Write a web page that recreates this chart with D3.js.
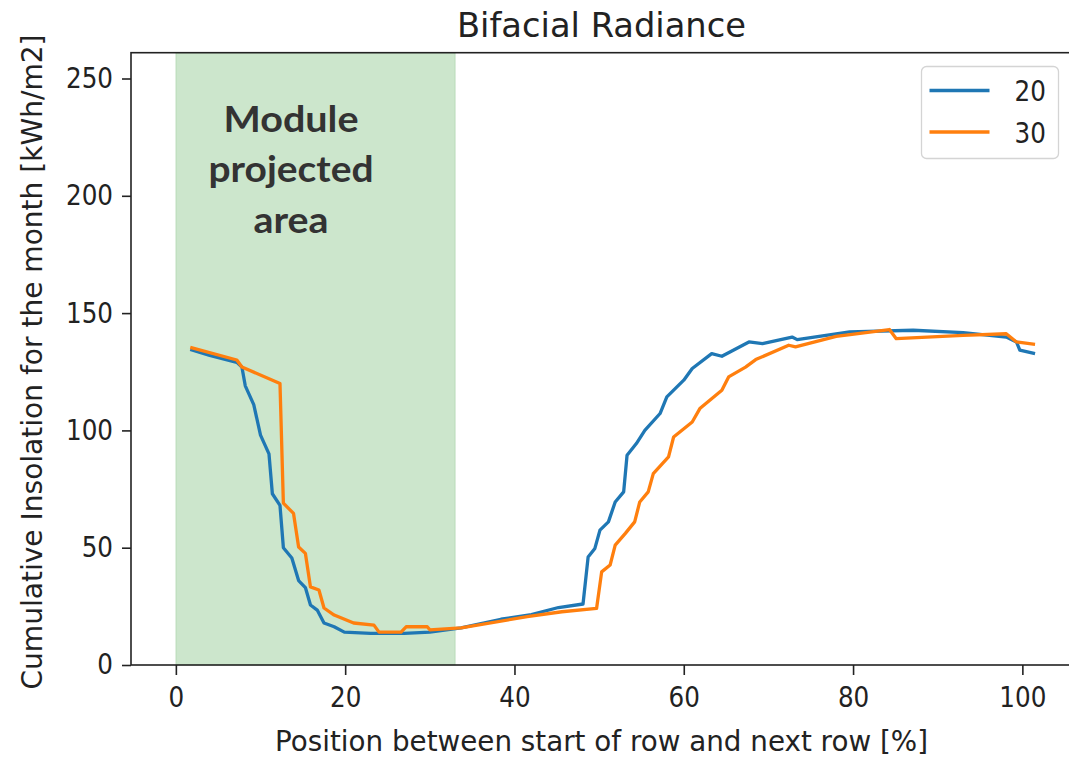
<!DOCTYPE html>
<html>
<head>
<meta charset="utf-8">
<script src="https://cdn.jsdelivr.net/npm/d3@7"></script>
<style>
  body { margin: 0; background: #fff; }
  text { font-family: "DejaVu Sans", sans-serif; fill: #222; }
</style>
</head>
<body>
<div id="chart"></div>
<script>
var width = 1069,
    height = 758;

// data: position [%] and insolation [kWh/m2]
var series = ["20", "30"];
var colors = ["#1f77b4", "#ff7f0e"];

var pos20 = [1.7, 4, 7.2, 7.8, 8.2, 9.2, 10, 11, 11.4, 12.3, 12.7, 13.7, 14.5, 15.3, 15.9, 16.7, 17.5, 18.7, 19.9, 23, 27, 30,
  33.7, 38.4, 42, 45.2, 48.1, 48.7, 49.5, 50.1, 51.1, 51.9, 52.9, 53.3, 54.4, 55.4, 57.2, 58, 60, 61, 63.3, 64.5, 67.7, 69.3,
  72.8, 73.4, 79.6, 87.1, 93, 98.1, 99.3, 99.7, 101.5];
var ins20 = [134.5, 132, 129, 127, 119, 111, 98, 90, 73, 68, 50, 45.6, 36, 33, 25.6, 23.4, 17.9, 16.3, 14, 13.5, 13.5, 14,
  15.8, 19.5, 21.5, 24.5, 26, 46, 49.7, 57.5, 61, 69.5, 73.8, 89.4, 94.4, 100, 107.2, 114.3, 121.4, 126.4, 132.7, 131.6, 137.7, 137,
  139.8, 138.7, 142, 142.7, 141.7, 139.8, 137.7, 134.2, 132.7];

var pos30 = [1.7, 7.2, 7.8, 12.3, 12.7, 13.9, 14.5, 15.3, 15.9, 16.9, 17.5, 18.7, 21, 23.4, 24, 26.6, 27.2, 29.7, 30,
  33.7, 41.5, 45.6, 49.7, 50.3, 51.3, 51.9, 53.1, 54.2, 54.8, 55.8, 56.4, 58.2, 58.8, 61, 61.9, 64.5, 65.3, 67.3, 68.5,
  72.4, 73.2, 78, 84.3, 85.1, 93, 98.1, 99.3, 101.5];
var ins30 = [135.4, 130, 127, 120, 69, 64.6, 50.3, 47.6, 33.3, 32, 24.3, 21.3, 17.9, 17, 14, 14, 16.3, 16.3, 15,
  15.8, 20.6, 22.7, 24.1, 39.7, 42.6, 51.1, 56.1, 61, 69.5, 73.8, 81.6, 88.7, 97.2, 103.6, 109.3, 117.1, 122.8, 127, 130.2,
  136.3, 135.6, 140.1, 143, 139.1, 140.5, 141.2, 137.7, 136.7];

var spanStart = 0, spanEnd = 33;
var xTicks = [0, 20, 40, 60, 80, 100];
var yTicks = [0, 50, 100, 150, 200, 250];
var noteLines = ["Module", "projected", "area"];

var svg = d3.select("#chart").append("svg")
    .attr("width", width)
    .attr("height", height);

var x = d3.scaleLinear().domain([-5.3, 106.1]).range([131, 1074]);
var y = d3.scaleLinear().domain([0, 261]).range([665, 52.7]);

// shaded module area
svg.append("rect")
    .attr("x", x(spanStart))
    .attr("y", y(261))
    .attr("width", x(spanEnd) - x(spanStart))
    .attr("height", y(0) - y(261))
    .attr("fill", "green")
    .attr("fill-opacity", 0.2)
    .attr("stroke", "green")
    .attr("stroke-opacity", 0.15);

// lines
var data = [
  pos20.map(function(p, i) { return [p, ins20[i]]; }),
  pos30.map(function(p, i) { return [p, ins30[i]]; })
];

var line = d3.line()
    .x(function(d) { return x(d[0]); })
    .y(function(d) { return y(d[1]); });

svg.selectAll(".series")
    .data(data)
    .enter().append("path")
    .attr("class", "series")
    .attr("d", line)
    .attr("fill", "none")
    .attr("stroke", function(d, i) { return colors[i]; })
    .attr("stroke-width", 3.3)
    .attr("stroke-linejoin", "round");

// spines
svg.append("rect")
    .attr("x", x.range()[0])
    .attr("y", y.range()[1])
    .attr("width", x.range()[1] - x.range()[0])
    .attr("height", y.range()[0] - y.range()[1])
    .attr("fill", "none")
    .attr("stroke", "#222")
    .attr("stroke-width", 1.6);

var k = 0.88; // text in the picture is a bit narrow

var xAxis = svg.append("g")
    .attr("transform", "translate(0," + y(0) + ")")
    .call(d3.axisBottom(x).tickValues(xTicks).tickSize(10).tickPadding(12).tickSizeOuter(0));
var yAxis = svg.append("g")
    .attr("transform", "translate(" + x.range()[0] + ",0)")
    .call(d3.axisLeft(y).tickValues(yTicks).tickSize(9).tickPadding(9).tickSizeOuter(0));

[xAxis, yAxis].forEach(function(ax) {
  ax.select(".domain").remove();
  ax.selectAll(".tick line").attr("stroke", "#222").attr("stroke-width", 1.6);
  ax.selectAll(".tick text")
      .attr("font-family", "DejaVu Sans")
      .attr("font-size", 28)
      .attr("fill", "#222");
});
xAxis.selectAll(".tick text").attr("transform", "scale(" + k + ",1)");
yAxis.selectAll(".tick text")
    .attr("x", -18 / k)
    .attr("transform", "scale(" + k + ",1)");

// title and axis labels
svg.append("text")
    .attr("x", 601.5)
    .attr("y", 37)
    .attr("text-anchor", "middle")
    .attr("font-size", 34)
    .attr("textLength", 289)
    .attr("lengthAdjust", "spacingAndGlyphs")
    .text("Bifacial Radiance");

svg.append("text")
    .attr("x", 601.5)
    .attr("y", 751)
    .attr("text-anchor", "middle")
    .attr("font-size", 29)
    .attr("textLength", 653)
    .attr("lengthAdjust", "spacingAndGlyphs")
    .text("Position between start of row and next row [%]");

svg.append("text")
    .attr("transform", "translate(42,362) rotate(-90)")
    .attr("text-anchor", "middle")
    .attr("font-size", 29)
    .attr("textLength", 655)
    .attr("lengthAdjust", "spacingAndGlyphs")
    .text("Cumulative Insolation for the month [kWh/m2]");

// annotation
var noteWidths = [135, 165, 75];
var noteBase = [132, 182, 233];
svg.selectAll(".note")
    .data(noteLines)
    .enter().append("text")
    .attr("class", "note")
    .attr("x", 291)
    .attr("y", function(d, i) { return noteBase[i]; })
    .attr("text-anchor", "middle")
    .style("font-family", "Lato, 'Open Sans', sans-serif")
    .style("font-weight", "bold")
    .style("fill", "#333")
    .attr("font-size", 37)
    .attr("textLength", function(d, i) { return noteWidths[i]; })
    .attr("lengthAdjust", "spacingAndGlyphs")
    .text(function(d) { return d; });

// legend
var legend = svg.append("g").attr("transform", "translate(921.5,66.5)");
legend.append("rect")
    .attr("width", 137)
    .attr("height", 92)
    .attr("rx", 5)
    .attr("fill", "#fff")
    .attr("fill-opacity", 0.8)
    .attr("stroke", "#d4d4d4")
    .attr("stroke-width", 1.3);

var item = legend.selectAll(".item")
    .data(series)
    .enter().append("g")
    .attr("class", "item")
    .attr("transform", function(d, i) { return "translate(0," + (24 + i * 41.5) + ")"; });
item.append("line")
    .attr("x1", 8).attr("x2", 68)
    .attr("stroke", function(d, i) { return colors[i]; })
    .attr("stroke-width", 3.3);
item.append("text")
    .attr("transform", "translate(93,10.5) scale(" + k + ",1)")
    .attr("font-size", 28)
    .text(function(d) { return d; });
</script>
</body>
</html>
